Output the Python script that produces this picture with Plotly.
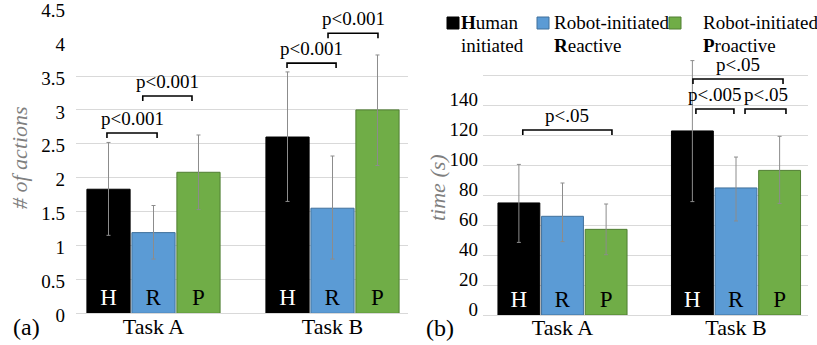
import plotly.graph_objects as go

# ---------------- data ----------------
tasks = ["Task A", "Task B"]
conditions = ["H", "R", "P"]
legend_labels = ["<b>H</b>uman<br>initiated",
                 "Robot-initiated<br><b>R</b>eactive",
                 "Robot-initiated<br><b>P</b>roactive"]

# (a) number of actions: mean, upper and lower error
actions_H = [1.83, 2.60]
actions_R = [1.19, 1.55]
actions_P = [2.08, 3.00]
actions_H_up = [0.69, 0.96]
actions_R_up = [0.40, 0.77]
actions_P_up = [0.55, 0.81]
actions_H_dn = [0.68, 0.95]
actions_R_dn = [0.39, 0.75]
actions_P_dn = [0.55, 0.82]

# (b) time in seconds: mean, upper and lower error
time_H = [74.7, 122.7]
time_R = [65.8, 84.7]
time_P = [57.1, 96.4]
time_H_up = [25.7, 46.9]
time_R_up = [22.2, 20.6]
time_P_up = [16.9, 22.7]
time_H_dn = [26.3, 47.1]
time_R_dn = [16.9, 22.0]
time_P_dn = [16.9, 22.0]

actions_ticks = [0, 0.5, 1, 1.5, 2, 2.5, 3, 3.5, 4, 4.5]
actions_ticktext = ["0", "0.5", "1", "1.5", "2", "2.5", "3", "3.5", "4", "4.5"]
time_ticks = [0, 20, 40, 60, 80, 100, 120, 140]
time_ticktext = ["0", "20", "40", "60", "80", "100", "120", "140"]

# significance brackets: (x start, x end, bracket height, label)
actions_sig = [(-0.26, 0.02, 2.66, "p<0.001"),
               (-0.06, 0.215, 3.205, "p<0.001"),
               (0.746, 1.02, 3.69, "p<0.001"),
               (0.975, 1.254, 4.13, "p<0.001")]
time_sig = [(-0.229, 0.285, 123.3, "p<.05"),
            (0.769, 0.988, 137.3, "p<.005"),
            (1.052, 1.288, 137.3, "p<.05"),
            (0.752, 1.271, 157.3, "p<.05")]

# ---------------- style ----------------
W, H = 817, 345
FONT = "Liberation Serif"
COLORS = ["#000000", "#5b9bd5", "#70ad47"]
EDGES = ["#000000", "#41719c", "#507e32"]
TEXTCOL = ["white", "black", "black"]
GRID = "#d9d9d9"


def px_x(p):
    return p / W


def px_y(p):
    return 1 - p / H


fig = go.Figure()

panels = [
    ("x", "y", [actions_H, actions_R, actions_P],
     [actions_H_up, actions_R_up, actions_P_up],
     [actions_H_dn, actions_R_dn, actions_P_dn]),
    ("x2", "y2", [time_H, time_R, time_P],
     [time_H_up, time_R_up, time_P_up],
     [time_H_dn, time_R_dn, time_P_dn]),
]

for xa, ya, means, ups, dns in panels:
    for i, cond in enumerate(conditions):
        fig.add_trace(go.Bar(
            x=tasks, y=means[i], xaxis=xa, yaxis=ya,
            name=cond, showlegend=False,
            marker=dict(color=COLORS[i], line=dict(color=EDGES[i], width=1)),
            error_y=dict(type="data", symmetric=False, array=ups[i],
                         arrayminus=dns[i], color="#8c8c8c",
                         thickness=1, width=2),
            text=[cond] * len(tasks), textposition="inside",
            insidetextanchor="start", constraintext="none", textangle=0,
            textfont=dict(family=FONT, size=23, color=TEXTCOL[i]),
            hoverinfo="skip",
        ))

# axis geometry (pixels)
L_LEFT, L_RIGHT, L_BOTTOM, L_TOP = 76, 408, 313.3, 5
R_LEFT, R_RIGHT, R_BOTTOM, R_TOP = 483, 808, 315, 55
L_SCALE = 67.8   # px per action
R_SCALE = 1.5    # px per second
L_CAT0, L_STEP = 153.5, 179
R_CAT0, R_STEP = 562.5, 173.5

xcommon = dict(type="category", showline=True, linecolor=GRID, linewidth=1,
               ticks="", showgrid=False, zeroline=False, automargin=False,
               ticklabelstandoff=-7,
               tickfont=dict(family=FONT, size=22, color="black"))
ycommon = dict(showline=False, ticks="", showgrid=False, zeroline=False,
               automargin=False, ticklabeloverflow="allow",
               tickfont=dict(family=FONT, size=19, color="black"),
               minor=dict(showgrid=True, gridcolor=GRID, gridwidth=1))

fig.update_layout(
    template="none",
    width=W, height=H,
    margin=dict(l=0, r=0, t=0, b=0, autoexpand=False),
    paper_bgcolor="white", plot_bgcolor="white",
    barmode="group", bargap=0.246, bargroupgap=0.04,
    font=dict(family=FONT, color="black"),
    xaxis=dict(xcommon, domain=[px_x(L_LEFT), px_x(L_RIGHT)], anchor="y",
               range=[(L_LEFT - L_CAT0) / L_STEP, (L_RIGHT - L_CAT0) / L_STEP]),
    yaxis=dict(ycommon, domain=[px_y(L_BOTTOM), px_y(L_TOP)], anchor="x",
               range=[0, (L_BOTTOM - L_TOP) / L_SCALE],
               tickvals=actions_ticks, ticktext=actions_ticktext,
               ticklabelstandoff=10, ticklabelshift=2,
               minor=dict(ycommon["minor"], tickvals=actions_ticks[1:8])),
    xaxis2=dict(xcommon, domain=[px_x(R_LEFT), px_x(R_RIGHT)], anchor="y2",
                range=[(R_LEFT - R_CAT0) / R_STEP, (R_RIGHT - R_CAT0) / R_STEP]),
    yaxis2=dict(ycommon, domain=[px_y(R_BOTTOM), px_y(R_TOP)], anchor="x2",
                range=[0, (R_BOTTOM - R_TOP) / R_SCALE],
                tickvals=time_ticks, ticktext=time_ticktext,
                ticklabelstandoff=4, ticklabelshift=-6,
                minor=dict(ycommon["minor"], tickvals=time_ticks[1:] + [160])),
)

# significance brackets with labels
for xa, ya, sig, tick in [("x", "y", actions_sig, 5 / L_SCALE),
                          ("x2", "y2", time_sig, 5 / R_SCALE)]:
    for x0, x1, yb, label in sig:
        fig.add_shape(type="path", xref=xa, yref=ya,
                      path=f"M {x0},{yb - tick} L {x0},{yb} L {x1},{yb} L {x1},{yb - tick}",
                      line=dict(color="black", width=1.6))
        fig.add_annotation(x=(x0 + x1) / 2, y=yb + tick * 0.4, xref=xa, yref=ya,
                           text=label, showarrow=False,
                           xanchor="center", yanchor="bottom",
                           font=dict(family=FONT, size=19, color="black"))

# y-axis titles and panel tags
side_texts = [(20, 158, "<i># of actions</i>", -90, 22, "#7f7f7f"),
              (437, 187, "<i>time (s)</i>", -90, 22, "#7f7f7f"),
              (26, 327, "(a)", 0, 24, "black"),
              (440, 328, "(b)", 0, 24, "black")]
for xp, yp, txt, ang, size, col in side_texts:
    fig.add_annotation(x=px_x(xp), y=px_y(yp), xref="paper", yref="paper",
                       text=txt, textangle=ang, showarrow=False,
                       xanchor="center", yanchor="middle",
                       font=dict(family=FONT, size=size, color=col))

# legend: swatches and two-line labels
swatch_x = [447, 537, 669]
label_x = [459, 552, 701]
for i in range(len(conditions)):
    fig.add_shape(type="rect", xref="paper", yref="paper",
                  x0=px_x(swatch_x[i]), x1=px_x(swatch_x[i] + 12),
                  y0=px_y(29), y1=px_y(17),
                  fillcolor=COLORS[i], line=dict(color=EDGES[i], width=1))
    for k, line in enumerate(legend_labels[i].split("<br>")):
        fig.add_annotation(x=px_x(label_x[i]), y=px_y(23 + 22 * k),
                           xref="paper", yref="paper",
                           text=line, showarrow=False,
                           xanchor="left", yanchor="middle",
                           font=dict(family=FONT, size=19, color="black"))

fig.write_html("out.html")
